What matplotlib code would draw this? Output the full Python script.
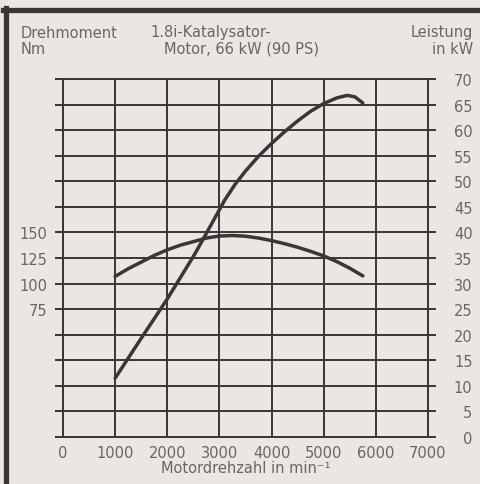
import matplotlib.pyplot as plt
from matplotlib.lines import Line2D

# values
rpm_power = [1000, 1500, 2000, 2500, 2700, 2900, 3100, 3300, 3500, 3750, 4000, 4250, 4500, 4750, 5000, 5250, 5450, 5600, 5750]
power_kw = [11.5, 19.3, 27.0, 35.3, 38.9, 42.6, 46.3, 49.4, 52.0, 54.9, 57.4, 59.7, 61.8, 63.7, 65.2, 66.3, 66.8, 66.5, 65.3]
rpm_torque = [1000, 1250, 1500, 1750, 2000, 2250, 2500, 2750, 3000, 3250, 3500, 3750, 4000, 4250, 4500, 4750, 5000, 5250, 5500, 5750]
torque_nm = [107, 114.5, 121, 127.5, 133, 137.5, 141, 144.5, 146.5, 147, 146.3, 144.5, 142, 139, 135.5, 131.5, 127, 121.5, 115, 107.5]
rpm_ticks = list(range(0, 8000, 1000))
kw_ticks = list(range(0, 75, 5))
nm_ticks = [75, 100, 125, 150]

W, H = 480, 485
bg = "#ebe6e4"
ink = "#3b3636"
txt = "#6a6464"

plt.rcParams["font.family"] = "DejaVu Sans"
fig = plt.figure(figsize=(W / 100, H / 100), dpi=100, facecolor=bg)
ax = fig.add_axes([63 / W, 1 - 438 / H, 365 / W, 358 / H])
ax.set_facecolor(bg)

# torque on second scale (150 Nm sits on the 40 kW line)
ax2 = ax.twinx()
ax2.set_ylim(-50, 300)
ax2.yaxis.tick_left()
ax2.set_yticks(nm_ticks)
ax2.tick_params(axis="y", length=0, pad=11, labelsize=10.5, labelcolor=txt)
for s in ax2.spines.values():
    s.set_visible(False)
ax2.plot(rpm_torque, torque_nm, color=ink, lw=2.5, solid_capstyle="round", solid_joinstyle="round")

ax.set_xlim(0, 7000)
ax.set_ylim(0, 70)
ax.set_xticks(rpm_ticks)
ax.set_yticks(kw_ticks)
ax.grid(True, color=ink, lw=1.4)
for s in ax.spines.values():
    s.set_color(ink)
    s.set_linewidth(1.4)
ax.tick_params(axis="x", length=0, pad=6, labelsize=10.5, labelcolor=txt)
ax.tick_params(axis="y", left=True, right=True, labelleft=False, labelright=True,
               length=6, width=1.4, color=ink, pad=26, labelsize=10.5, labelcolor=txt)
for lab in ax.get_yticklabels():
    lab.set_horizontalalignment("right")

# power curve
ax.plot(rpm_power, power_kw, color=ink, lw=2.5, solid_capstyle="round", solid_joinstyle="round")

ax.set_xlabel("Motordrehzahl in min⁻¹", fontsize=10.5, color=txt, labelpad=0)

# header
fig.text(21 / W, 1 - 33 / H, "Drehmoment", fontsize=10.5, color=txt, va="center")
fig.text(21 / W, 1 - 49 / H, "Nm", fontsize=10.5, color=txt, va="center")
fig.text(211 / W, 1 - 33 / H, "1.8i-Katalysator-", fontsize=10.5, color=txt, va="center", ha="center")
fig.text(242 / W, 1 - 49 / H, "Motor, 66 kW (90 PS)", fontsize=10.5, color=txt, va="center", ha="center")
fig.text(473 / W, 1 - 33 / H, "Leistung", fontsize=10.5, color=txt, va="center", ha="right")
fig.text(473 / W, 1 - 49 / H, "in kW", fontsize=10.5, color=txt, va="center", ha="right")

# frame
fig.add_artist(Line2D([3 / W, 1], [1 - 10.5 / H] * 2, transform=fig.transFigure, lw=3.8, color=ink))
fig.add_artist(Line2D([5.5 / W] * 2, [0, 1 - 8.5 / H], transform=fig.transFigure, lw=3.8, color=ink))

fig.savefig("out.png", dpi=100, facecolor=bg)
